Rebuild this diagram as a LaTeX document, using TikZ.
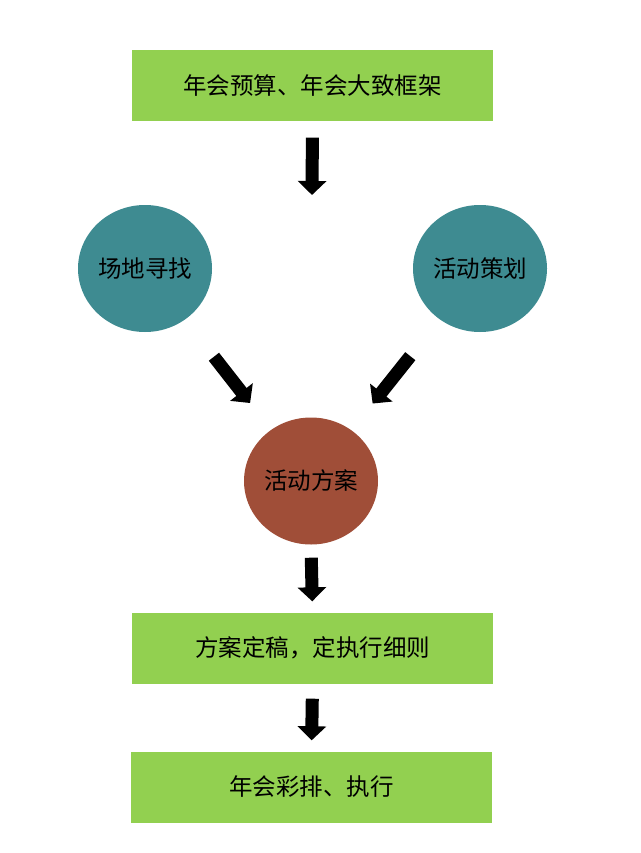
\documentclass[tikz,border=0pt]{standalone}
\usepackage{fontspec}
\setmainfont{Noto Sans CJK SC}
\usetikzlibrary{arrows.meta,shapes.geometric}
\definecolor{vert}{RGB}{146,208,80}
\definecolor{canard}{RGB}{62,139,145}
\definecolor{brique}{RGB}{160,78,56}
\begin{document}
\begin{tikzpicture}[x=1pt, y=-1pt]
\tikzset{etape/.style={fill=vert, minimum width=361pt, minimum height=71pt, inner sep=0pt, font=\fontsize{23.5pt}{28pt}\selectfont},
bulle/.style={ellipse, minimum width=134pt, minimum height=127pt, inner sep=0pt, font=\fontsize{23.5pt}{28pt}\selectfont},
fleche/.style={line width=13pt, -{Triangle[width=28pt,length=14pt]}}}
\useasboundingbox (0, 0) rectangle (640, 853);
\node[etape] (E1) at (312.5, 86) {年会预算、年会大致框架};
\node[bulle, fill=canard] (C1) at (145, 268.5) {场地寻找};
\node[bulle, fill=canard] (C2) at (480, 268.5) {活动策划};
\node[bulle, fill=brique] (C3) at (311, 481) {活动方案};
\node[etape] (E2) at (312.5, 648) {方案定稿，定执行细则\hspace{12pt}};
\node[etape] (E3) at (311.5, 787) {年会彩排、执行};
\coordinate (P1) at (312, 195);
\draw[fleche, shorten <=16pt] (E1.south) -- (P1);
\draw[fleche, shorten <=47pt, shorten >=34pt] (C1) -- (C3);
\draw[fleche, shorten <=47pt, shorten >=34pt] (C2) -- (C3);
\draw[fleche, shorten <=13pt, shorten >=11pt] (C3.south) -- (E2.north);
\draw[fleche, shorten <=15pt, shorten >=11pt] (E2.south) -- (E3.north);
\end{tikzpicture}
\end{document}
